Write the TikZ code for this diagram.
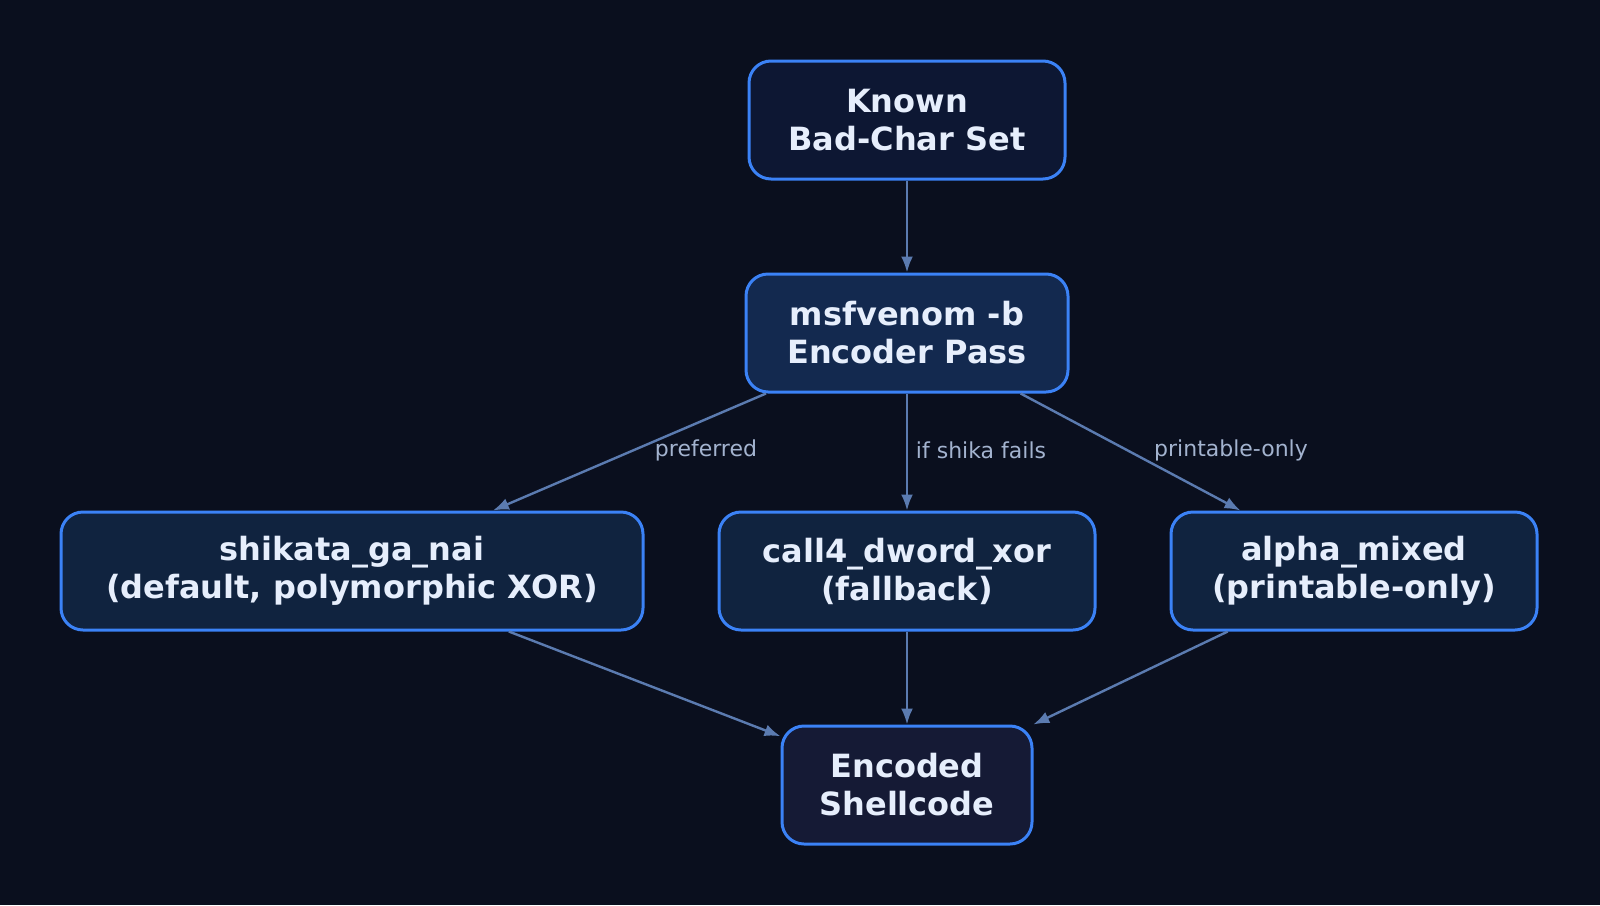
\documentclass[tikz,border=0pt]{standalone}
\usepackage{fontspec}
\setmainfont{DejaVu Sans}
\usetikzlibrary{arrows.meta}
\definecolor{bgc}{HTML}{0A0F1E}
\definecolor{rim}{HTML}{3B82F6}
\definecolor{wire}{HTML}{5B7BB0}
\definecolor{ink}{HTML}{E6EEFC}
\definecolor{lbl}{HTML}{A3B3CF}
\definecolor{fa}{HTML}{0D1733}
\definecolor{fb}{HTML}{13294F}
\definecolor{fc}{HTML}{10233F}
\definecolor{fd}{HTML}{151A35}
\tikzset{
  box/.style={draw=rim, line width=1.5pt, rounded corners=11pt, align=center,
    text=ink, font=\fontsize{16}{19}\selectfont\bfseries, minimum height=59pt, inner sep=0pt},
  edge/.style={draw=wire, line width=1.2pt, -{Latex[length=8pt,width=6pt]}},
  tag/.style={text=lbl, font=\fontsize{11}{13}\selectfont}
}
\begin{document}
\begin{tikzpicture}[x=0.5pt,y=-0.5pt]
  % background
  \fill[bgc] (0,0) rectangle (1600,905);
  \useasboundingbox (0,0) rectangle (1600,905);
  % nodes
  \node[box, fill=fa, minimum width=158pt] (known) at (907,120) {Known\\Bad-Char Set};
  \node[box, fill=fb, minimum width=161pt] (msf) at (907,333) {msfvenom -b\\Encoder Pass};
  \node[box, fill=fc, minimum width=291pt] (shik) at (352,571) {shikata\_ga\_nai\\(default, polymorphic XOR)};
  \node[box, fill=fc, minimum width=188pt] (call) at (907,571) {call4\_dword\_xor\\(fallback)};
  \node[box, fill=fc, minimum width=183pt] (alpha) at (1354,571) {alpha\_mixed\\(printable-only)};
  \node[box, fill=fd, minimum width=125pt] (enc) at (907,785) {Encoded\\Shellcode};
  % connectors
  \draw[edge] (known) -- (msf);
  \draw[edge] (msf) -- (shik);
  \draw[edge] (msf) -- (call);
  \draw[edge] (msf) -- (alpha);
  \draw[edge] (shik) -- (enc);
  \draw[edge] (call) -- (enc);
  \draw[edge] (alpha) -- (enc);
  % labels
  \node[tag] (tpref) at (706,450) {preferred};
  \node[tag] (tfail) at (981,450) {if shika fails};
  \node[tag] (tprint) at (1231,450) {printable-only};
\end{tikzpicture}
\end{document}
